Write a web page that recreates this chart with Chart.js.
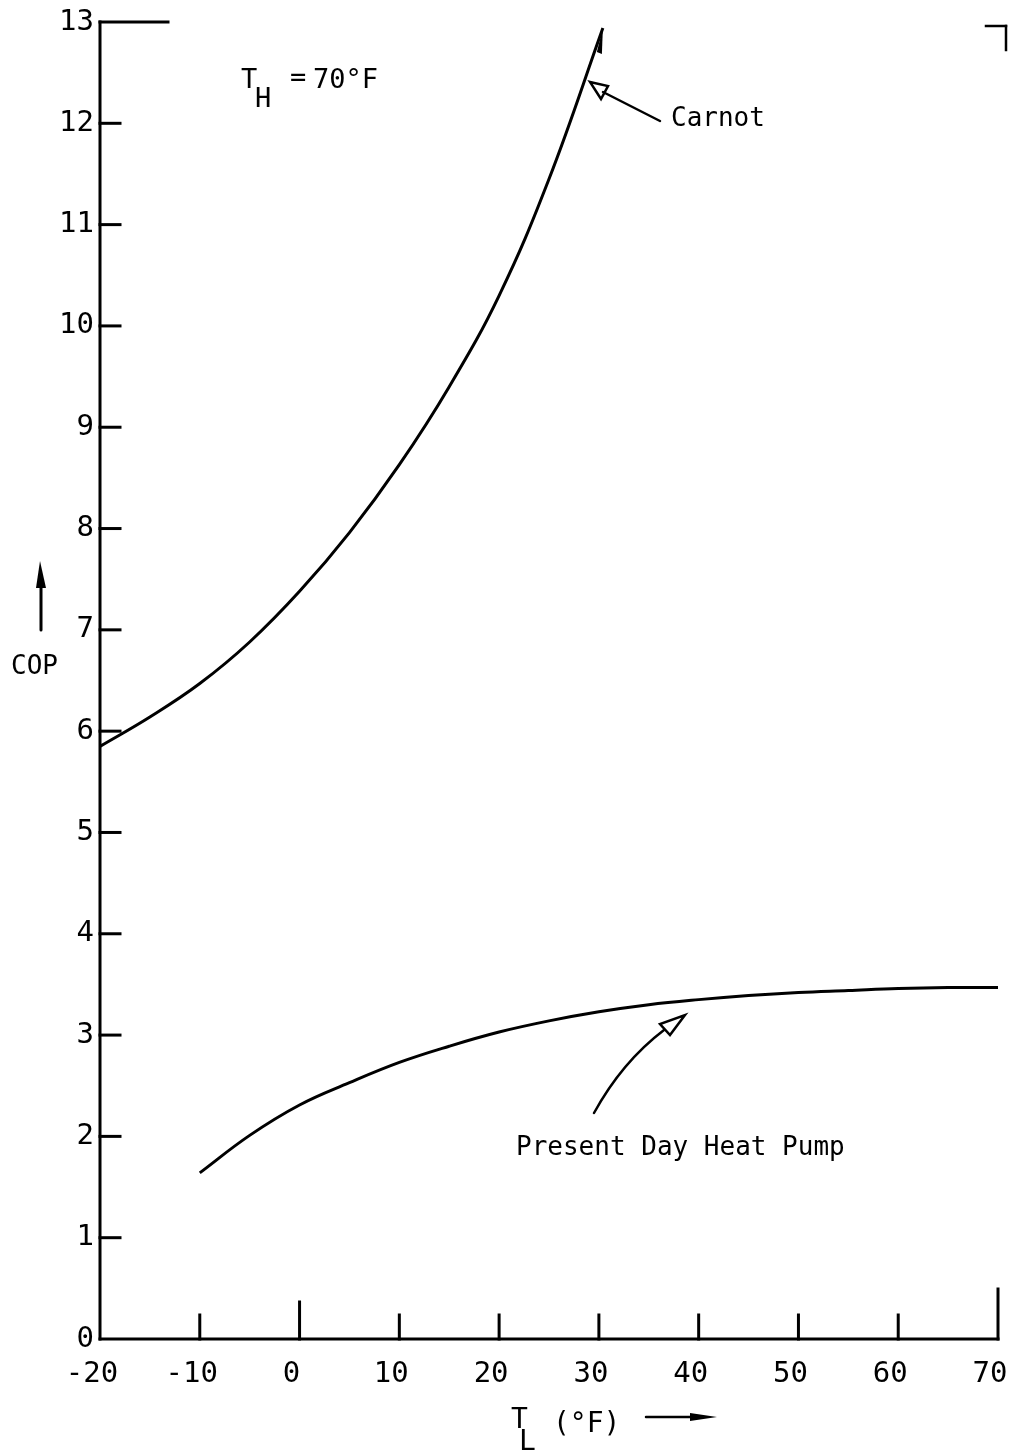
<!DOCTYPE html>
<html><head><meta charset="utf-8">
<script src="https://cdn.jsdelivr.net/npm/chart.js@4.4.1/dist/chart.umd.min.js"></script>
<style>html,body{margin:0;padding:0;background:#fff}#wrap{width:1013px;height:1454px;position:relative}</style>
</head><body><div id="wrap"><canvas id="c" width="1013" height="1454"></canvas></div>
<script>
// ---- data ----
const carnotTempF = [-20, -15, -10, -5, 0, 5, 10, 15, 20, 25, 30.4];
const carnotCOP   = [5.85, 6.14, 6.47, 6.88, 7.38, 7.96, 8.63, 9.40, 10.30, 11.45, 12.94];
const pumpTempF   = [-10, -5, 0, 5, 10, 15, 20, 25, 30, 35, 40, 45, 50, 55, 60, 65, 70];
const pumpCOP     = [1.64, 2.01, 2.31, 2.53, 2.73, 2.89, 3.03, 3.14, 3.23, 3.30, 3.35, 3.39, 3.42, 3.44, 3.46, 3.47, 3.47];
const xTickValues = [-20, -10, 0, 10, 20, 30, 40, 50, 60, 70];
const yTickValues = [0, 1, 2, 3, 4, 5, 6, 7, 8, 9, 10, 11, 12, 13];
const xRange = [-20, 70];
const yRange = [0, 13];
const seriesNames = ['Carnot', 'Present Day Heat Pump'];
const thLabel = ['T', 'H', '=', '70°F'];
const xTitle = ['T', 'L', '(°F)'];
const yTitle = 'COP';

const toPoints = (xs, ys) => xs.map((x, i) => ({x: x, y: ys[i]}));
const MONO = '"DejaVu Sans Mono", "Liberation Mono", monospace';

const framePlugin = {
  id: 'frame',
  afterDatasetsDraw(chart) {
    const {ctx, scales: {x, y}} = chart;
    const X = v => x.getPixelForValue(v), Y = v => y.getPixelForValue(v);
    const line = (x1, y1, x2, y2) => { ctx.beginPath(); ctx.moveTo(x1, y1); ctx.lineTo(x2, y2); ctx.stroke(); };
    const x0 = X(xRange[0]), y0 = Y(yRange[0]), yTop = Y(yRange[1]), xEnd = X(xRange[1]);
    ctx.save();
    ctx.strokeStyle = '#000'; ctx.fillStyle = '#000'; ctx.lineWidth = 3; ctx.lineCap = 'square';
    // axes
    line(x0, yTop, x0, y0);
    line(x0, y0, xEnd, y0);
    line(x0, yTop, x0 + 68, yTop);
    // y ticks (inward)
    yTickValues.forEach(v => { if (v > yRange[0] && v < yRange[1]) line(x0, Y(v), x0 + 20, Y(v)); });
    // x ticks (upward)
    xTickValues.forEach(v => {
      if (v === xRange[0]) return;
      const len = v === 0 ? 37 : (v === xRange[1] ? 50 : 24);
      line(X(v), y0, X(v), y0 - len);
    });
    // top-right corner bracket
    ctx.lineWidth = 2.5;
    line(xEnd - 12, yTop + 4, xEnd + 8, yTop + 4);
    line(xEnd + 8, yTop + 4, xEnd + 8, yTop + 28);

    // text annotations
    ctx.textBaseline = 'alphabetic';
    ctx.font = '27px ' + MONO;
    ctx.fillText(thLabel[0], 241, 88);
    ctx.fillText(thLabel[1], 255, 107);
    ctx.fillText(thLabel[2], 290, 86);
    ctx.fillText(thLabel[3], 313, 88);

    ctx.font = '26px ' + MONO;
    ctx.fillText(seriesNames[0], 671, 126);
    ctx.fillText(seriesNames[1], 516, 1155);

    // Carnot arrow (open head)
    ctx.lineWidth = 2.5; ctx.lineCap = 'round';
    line(660, 121, 603, 92);
    ctx.beginPath(); ctx.moveTo(590, 82); ctx.lineTo(608, 86); ctx.lineTo(601, 99); ctx.closePath(); ctx.stroke();

    // Heat pump arrow (curved, open head)
    ctx.beginPath(); ctx.moveTo(594, 1113); ctx.quadraticCurveTo(622, 1062, 664, 1030); ctx.stroke();
    ctx.beginPath(); ctx.moveTo(685, 1015); ctx.lineTo(670, 1035); ctx.lineTo(660, 1024); ctx.closePath(); ctx.stroke();

    // COP title with upward arrow
    ctx.font = '26px ' + MONO;
    ctx.fillText(yTitle, 11, 674);
    ctx.lineWidth = 3;
    line(41, 630, 41, 585);
    ctx.beginPath(); ctx.moveTo(40, 561); ctx.lineTo(46, 588); ctx.lineTo(36, 588); ctx.closePath(); ctx.fill();

    // x-axis title with arrow
    ctx.font = '28px ' + MONO;
    ctx.fillText(xTitle[0], 511, 1428);
    ctx.fillText(xTitle[1], 519, 1450);
    ctx.fillText(xTitle[2], 553, 1432);
    ctx.lineWidth = 2.5;
    line(646, 1417, 695, 1417);
    ctx.beginPath(); ctx.moveTo(690, 1413); ctx.lineTo(717, 1417); ctx.lineTo(690, 1421); ctx.closePath(); ctx.fill();

    // Carnot curve end thickening
    ctx.beginPath(); ctx.moveTo(X(30.4), Y(12.94)); ctx.lineTo(X(30.4) - 6, Y(12.94) + 24); ctx.lineTo(X(30.4) - 1, Y(12.94) + 26); ctx.closePath(); ctx.fill();
    ctx.restore();
  }
};

new Chart(document.getElementById('c'), {
  type: 'scatter',
  data: {
    datasets: [
      { label: seriesNames[0], data: toPoints(carnotTempF, carnotCOP), showLine: true, borderColor: '#000', borderWidth: 3, pointRadius: 0, tension: 0.4, fill: false },
      { label: seriesNames[1], data: toPoints(pumpTempF, pumpCOP), showLine: true, borderColor: '#000', borderWidth: 3, pointRadius: 0, tension: 0.4, fill: false }
    ]
  },
  options: {
    responsive: false,
    animation: false,
    layout: { padding: { left: 0, top: 22, right: 15, bottom: 45 } },
    plugins: { legend: { display: false }, tooltip: { enabled: false } },
    scales: {
      x: {
        type: 'linear', min: xRange[0], max: xRange[1],
        afterBuildTicks: s => { s.ticks = xTickValues.map(v => ({value: v})); },
        afterFit: s => { s.height = 70; s.paddingLeft = 0; s.paddingRight = 0; },
        grid: { display: false, drawTicks: false },
        border: { display: false },
        ticks: { color: '#000', padding: 18, labelOffset: -8, maxRotation: 0, font: { family: MONO, size: 29 } }
      },
      y: {
        type: 'linear', min: yRange[0], max: yRange[1],
        afterBuildTicks: s => { s.ticks = yTickValues.map(v => ({value: v})); },
        afterFit: s => { s.width = 100; s.paddingTop = 0; s.paddingBottom = 0; },
        grid: { display: false, drawTicks: false },
        border: { display: false },
        ticks: { color: '#000', padding: 6, font: { family: MONO, size: 29 } }
      }
    }
  },
  plugins: [framePlugin]
});
</script>
</body></html>
